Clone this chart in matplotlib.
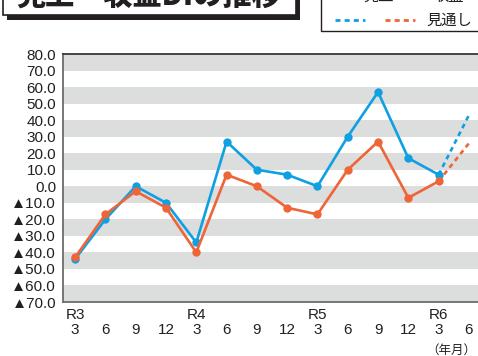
import matplotlib
matplotlib.use("Agg")
import matplotlib.pyplot as plt
from matplotlib.patches import Rectangle
from matplotlib.lines import Line2D

plt.rcParams['font.family'] = ['Liberation Sans', 'Noto Sans CJK JP', 'DejaVu Sans']

# Quarterly periods (Reiwa year / month)
years = ["R3", "", "", "", "R4", "", "", "", "R5", "", "", "", "R6", ""]
months = ["3", "6", "9", "12", "3", "6", "9", "12", "3", "6", "9", "12", "3", "6"]

# DI values (actual)
sales_di = [-44, -20, 0, -10, -34, 27, 10, 7, 0, 30, 57, 17, 7]
profit_di = [-43, -17, -3, -13, -40, 7, 0, -13, -17, 10, 27, -7, 3]
# Outlook for the next quarter
sales_outlook = 43
profit_outlook = 26

y_ticks = list(range(80, -71, -10))

BLUE = "#0fa0e2"
ORANGE = "#ee6538"
BAND = "#dcdddd"
TEXT = "#231f20"
SPINE = "#6e6b6b"

W, H = 478, 356
fig = plt.figure(figsize=(W / 100, H / 100), dpi=100)

def fx(px):
    return px / W

def fy(py):
    return 1 - py / H

ax = fig.add_axes([fx(63), fy(302), fx(478 - 63), fy(54) - fy(302)])
ax.set_ylim(-70, 80)
ax.set_xlim(-0.4, 13.3)

# Alternating horizontal bands
for lo in range(-70, 80, 20):
    ax.axhspan(lo, lo + 10, color=BAND, lw=0, zorder=0)

x_act = list(range(len(sales_di)))
ax.plot(x_act, sales_di, color=BLUE, lw=1.9, marker="o", ms=5, zorder=3,
        solid_joinstyle="round")
ax.plot(x_act, profit_di, color=ORANGE, lw=1.9, marker="o", ms=5, zorder=4,
        solid_joinstyle="round")

last = len(sales_di) - 1
dash = (0, (1.8, 1.5))
ax.plot([last, last + 1], [sales_di[-1], sales_outlook], color=BLUE, lw=1.9,
        linestyle=dash, zorder=3)
ax.plot([last, last + 1], [profit_di[-1], profit_outlook], color=ORANGE, lw=1.9,
        linestyle=dash, zorder=3)

def ylab(v):
    return f"{v:.1f}" if v >= 0 else f"▲{abs(v):.1f}"

ax.set_yticks(y_ticks)
ax.set_yticklabels([ylab(v) for v in y_ticks], fontsize=11, color=TEXT,
                   family=['Liberation Sans', 'DejaVu Sans'])
ax.set_xticks(range(len(months)))
ax.set_xticklabels([f"{y}\n{m}" if y else f"\n{m}" for y, m in zip(years, months)],
                   fontsize=11, color=TEXT, linespacing=1.15)
ax.tick_params(axis="both", length=0, pad=5)
ax.tick_params(axis="x", pad=4)

for s in ["left", "bottom", "top"]:
    ax.spines[s].set_color(SPINE)
    ax.spines[s].set_linewidth(1.3)
ax.spines["top"].set_color("#3a3737")
ax.spines["right"].set_visible(False)

fig.text(fx(476), fy(350), "（年月）", fontsize=9, color=TEXT,
         ha="right", va="center", family=['Noto Sans CJK JP'])

# Title box with drop shadow
fig.patches.append(Rectangle((fx(7), fy(20)), fx(293), fy(-30) - fy(20),
                             transform=fig.transFigure, facecolor="#231f20",
                             edgecolor="none", zorder=1))
fig.patches.append(Rectangle((fx(3), fy(15)), fx(293), fy(-30) - fy(15),
                             transform=fig.transFigure, facecolor="white",
                             edgecolor="#231f20", lw=1.2, zorder=2))
fig.text(fx(149), fy(5), "売上・収益DIの推移", fontsize=21, fontweight="black",
         color=TEXT, ha="center", va="baseline", family=['Noto Sans CJK JP'],
         zorder=3)

# Legend box
fig.patches.append(Rectangle((fx(321), fy(31)), fx(200), fy(-30) - fy(31),
                             transform=fig.transFigure, facecolor="white",
                             edgecolor="#231f20", lw=1.0, zorder=2))
row1, row2 = -4, 20
for (x0, x1, c) in [(333, 360, BLUE), (400, 428, ORANGE)]:
    fig.lines.append(Line2D([fx(x0), fx(x1)], [fy(row1), fy(row1)], color=c, lw=2,
                            transform=fig.transFigure, zorder=3))
for (x0, x1, c) in [(335, 365, BLUE), (385, 415, ORANGE)]:
    fig.lines.append(Line2D([fx(x0), fx(x1)], [fy(row2), fy(row2)], color=c, lw=2,
                            linestyle=dash, transform=fig.transFigure, zorder=3))
fig.text(fx(363), fy(row1), "売上", fontsize=11, color=TEXT, va="center",
         family=['Noto Sans CJK JP'], zorder=3)
fig.text(fx(433), fy(row1), "収益", fontsize=11, color=TEXT, va="center",
         family=['Noto Sans CJK JP'], zorder=3)
fig.text(fx(426), fy(row2), "見通し", fontsize=11, color=TEXT, va="center",
         family=['Noto Sans CJK JP'], zorder=3)

fig.savefig("out.png", dpi=100)
